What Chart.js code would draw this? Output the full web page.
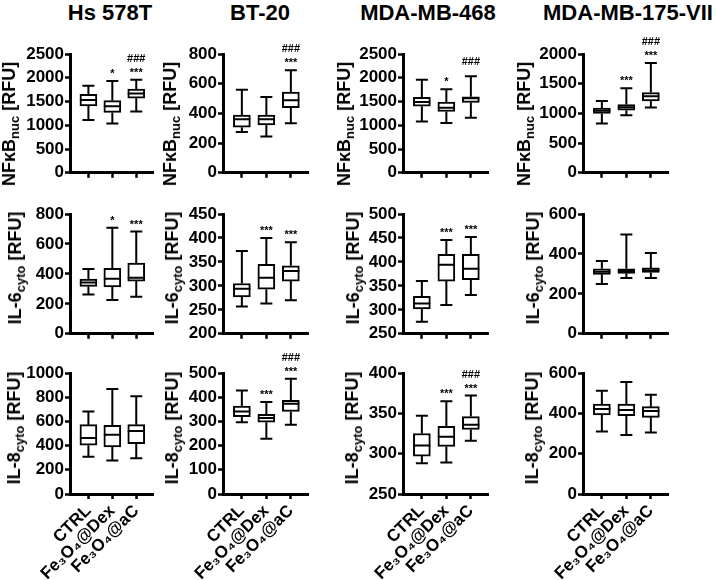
<!DOCTYPE html>
<html>
<head>
<meta charset="utf-8">
<script src="https://cdn.jsdelivr.net/npm/chart.js"></script>
<style>
  body { margin: 0; background: #fff; width: 716px; height: 580px; position: relative; overflow: hidden;
         font-family: "Liberation Sans", Arial, sans-serif; color: #000; }
  canvas { position: absolute; }
  .title { position: absolute; top: 1px; font-weight: bold; font-size: 22px; line-height: 24px;
           transform: translateX(-50%); white-space: nowrap; }
  .ytitle { position: absolute; font-weight: bold; font-size: 18px; line-height: 18px; height: 18px;
            white-space: nowrap; transform: translate(-50%, -50%) rotate(-90deg); }
  .ytitle sub { font-size: 13px; vertical-align: -4px; line-height: 0; }
</style>
</head>
<body>
<script>
// column titles, groups, y-axis names
const cellLines = ['Hs 578T', 'BT-20', 'MDA-MB-468', 'MDA-MB-175-VII'];
const groups = ['CTRL', 'Fe₃O₄@Dex', 'Fe₃O₄@aC'];
const markers = ['NFκB', 'IL-6', 'IL-8'];
const markerSubs = ['nuc', 'cyto', 'cyto'];

// box stats per group: [min, q1, median, q3, max] (CTRL, Fe3O4@Dex, Fe3O4@aC)
const hs578tNfkb = [[1110, 1410, 1530, 1650, 1830], [1040, 1270, 1400, 1520, 1930], [1290, 1570, 1670, 1760, 1960]];
const bt20Nfkb   = [[275, 307, 360, 389, 560], [245, 322, 360, 389, 511], [333, 438, 489, 544, 690]];
const mda468Nfkb = [[1080, 1400, 1490, 1590, 1960], [1050, 1290, 1370, 1490, 1760], [1160, 1480, 1570, 1600, 2030]];
const mda175Nfkb = [[830, 1000, 1045, 1090, 1210], [970, 1055, 1105, 1150, 1425], [1100, 1210, 1290, 1350, 1850]];

const hs578tIl6 = [[263, 317, 343, 365, 433], [226, 313, 367, 437, 709], [248, 352, 375, 472, 683]];
const bt20Il6   = [[257, 277, 294, 305, 373], [263, 293, 317, 345, 400], [270, 310, 331, 342, 391]];
const mda468Il6 = [[275, 302, 313, 328, 360], [310, 360, 394, 416, 446], [331, 363, 386, 416, 452]];
const mda175Il6 = [[250, 298, 311, 326, 364], [279, 303, 315, 326, 497], [279, 307, 318, 330, 405]];

const hs578tIl8 = [[307, 403, 463, 573, 682], [277, 389, 490, 567, 868], [296, 416, 521, 573, 808]];
const bt20Il8   = [[297, 320, 341, 363, 428], [228, 297, 314, 329, 380], [286, 341, 373, 387, 476]];
const mda468Il8 = [[288, 297, 310, 325, 347], [289, 309, 321, 334, 365], [316, 330, 336, 346, 372]];
const mda175Il8 = [[310, 392, 421, 446, 512], [292, 388, 416, 446, 555], [305, 380, 412, 433, 492]];

// significance marks above each box (bottom line first)
const hs578tNfkbSig = [[], ['*'], ['***', '###']];
const bt20NfkbSig   = [[], [], ['***', '###']];
const mda468NfkbSig = [[], ['*'], ['###']];
const mda175NfkbSig = [[], ['***'], ['***', '###']];
const hs578tIl6Sig  = [[], ['*'], ['***']];
const bt20Il6Sig    = [[], ['***'], ['***']];
const mda468Il6Sig  = [[], ['***'], ['***']];
const mda175Il6Sig  = [[], [], []];
const hs578tIl8Sig  = [[], [], []];
const bt20Il8Sig    = [[], ['***'], ['***', '###']];
const mda468Il8Sig  = [[], ['***'], ['***', '###']];
const mda175Il8Sig  = [[], [], []];

// y axis ranges per row (one entry per cell line)
const yMinNfkb = [0, 0, 0, 0],       yMaxNfkb = [2500, 800, 2500, 2000], yStepNfkb = [500, 200, 500, 500];
const yMinIl6  = [0, 200, 250, 0],   yMaxIl6  = [800, 450, 500, 600],    yStepIl6  = [200, 50, 50, 200];
const yMinIl8  = [0, 0, 250, 0],     yMaxIl8  = [1000, 500, 400, 600],   yStepIl8  = [200, 100, 50, 200];

const rowStats = [
  [hs578tNfkb, bt20Nfkb, mda468Nfkb, mda175Nfkb],
  [hs578tIl6, bt20Il6, mda468Il6, mda175Il6],
  [hs578tIl8, bt20Il8, mda468Il8, mda175Il8]
];
const rowSig = [
  [hs578tNfkbSig, bt20NfkbSig, mda468NfkbSig, mda175NfkbSig],
  [hs578tIl6Sig, bt20Il6Sig, mda468Il6Sig, mda175Il6Sig],
  [hs578tIl8Sig, bt20Il8Sig, mda468Il8Sig, mda175Il8Sig]
];
const rowMin = [yMinNfkb, yMinIl6, yMinIl8];
const rowMax = [yMaxNfkb, yMaxIl6, yMaxIl8];
const rowStep = [yStepNfkb, yStepIl6, yStepIl8];

// layout (pixels)
const axisX = [70, 223, 403, 583];
const plotW = [83, 85, 85, 85];
const plotTop = [54, 214, 373];
const plotBottom = [176, 337, 494];
const titleCX = [110, 260, 428, 628];
const yTitleX = [[9, 170, 344, 524], [15, 172, 353, 533], [14, 172, 352, 532]];
const yTitleY = [124, 268, 428];
const Y_W = 64, PAD_TOP = 30, PAD_RIGHT = 8;

Chart.defaults.font.family = '"Liberation Sans", Arial, sans-serif';
Chart.defaults.color = '#000';

function boxPlugin(stats, sig) {
  return {
    id: 'boxWhiskers',
    afterDatasetsDraw(chart) {
      const ctx = chart.ctx;
      const x = chart.scales.x, y = chart.scales.y;
      ctx.save();
      ctx.strokeStyle = '#000';
      ctx.lineWidth = 2;
      stats.forEach((s, i) => {
        const cx = x.getPixelForValue(i);
        const lo = y.getPixelForValue(s[0]), q1 = y.getPixelForValue(s[1]);
        const med = y.getPixelForValue(s[2]), q3 = y.getPixelForValue(s[3]);
        const hi = y.getPixelForValue(s[4]);
        ctx.beginPath();
        ctx.moveTo(cx, q1); ctx.lineTo(cx, lo);
        ctx.moveTo(cx - 6, lo); ctx.lineTo(cx + 6, lo);
        ctx.moveTo(cx, q3); ctx.lineTo(cx, hi);
        ctx.moveTo(cx - 6, hi); ctx.lineTo(cx + 6, hi);
        ctx.moveTo(cx - 8.5, med); ctx.lineTo(cx + 8.5, med);
        ctx.stroke();

        // significance marks
        ctx.fillStyle = '#000';
        ctx.font = 'bold 11px "Liberation Sans", Arial, sans-serif';
        ctx.textAlign = 'center';
        ctx.textBaseline = 'alphabetic';
        sig[i].forEach((txt, k) => {
          let by;
          if (k === 0) by = txt[0] === '#' ? hi - 11 : hi - 4;
          else by = hi - 18;
          ctx.fillText(txt, cx, by);
        });
      });
      ctx.restore();
    }
  };
}

function addText(cls, html, left, top) {
  const d = document.createElement('div');
  d.className = cls;
  d.innerHTML = html;
  d.style.left = left + 'px';
  d.style.top = top + 'px';
  document.body.appendChild(d);
}

cellLines.forEach((name, c) => addText('title', name, titleCX[c], 1));

for (let r = 0; r < 3; r++) {
  for (let c = 0; c < 4; c++) {
    const stats = rowStats[r][c];
    const bottomRow = r === 2;
    const bottomH = bottomRow ? 580 - plotBottom[r] : 8;
    const w = Y_W + plotW[c] + PAD_RIGHT;
    const h = PAD_TOP + (plotBottom[r] - plotTop[r]) + bottomH;

    const canvas = document.createElement('canvas');
    canvas.width = w; canvas.height = h;
    canvas.style.left = (axisX[c] - Y_W) + 'px';
    canvas.style.top = (plotTop[r] - PAD_TOP) + 'px';
    canvas.style.width = w + 'px'; canvas.style.height = h + 'px';
    document.body.appendChild(canvas);

    addText('ytitle', markers[r] + '<sub>' + markerSubs[r] + '</sub> [RFU]', yTitleX[r][c], yTitleY[r]);

    new Chart(canvas.getContext('2d'), {
      type: 'bar',
      data: {
        datasets: [{
          data: stats.map((s, i) => ({ x: i, y: [s[1], s[3]] })),
          backgroundColor: '#fff',
          borderColor: '#000',
          borderWidth: 2,
          borderSkipped: false,
          barThickness: 17
        }]
      },
      options: {
        responsive: false,
        animation: false,
        layout: { padding: { top: PAD_TOP, right: PAD_RIGHT, left: 0, bottom: 0 } },
        plugins: { legend: { display: false }, tooltip: { enabled: false } },
        scales: {
          x: {
            type: 'linear',
            min: -0.77,
            max: 2.7,
            offset: false,
            afterBuildTicks: s => { s.ticks = [0, 1, 2].map(v => ({ value: v })); },
            afterFit: s => { s.height = bottomH; },
            grid: { drawOnChartArea: false, drawTicks: true, tickLength: 5, tickWidth: 2.5, color: '#000', offset: false },
            border: { display: true, color: '#000', width: 3 },
            ticks: {
              display: bottomRow,
              autoSkip: false,
              maxRotation: 45,
              minRotation: 45,
              padding: 2,
              color: '#000',
              font: { size: 17, weight: 'bold' },
              callback: v => groups[v]
            }
          },
          y: {
            min: rowMin[r][c],
            max: rowMax[r][c],
            afterFit: s => { s.width = Y_W; },
            grid: { drawOnChartArea: false, drawTicks: true, tickLength: 5, tickWidth: 2.5, color: '#000' },
            border: { display: true, color: '#000', width: 3 },
            ticks: {
              stepSize: rowStep[r][c],
              padding: 1,
              color: '#000',
              font: { size: 17, weight: 'bold' },
              callback: v => String(v)
            }
          }
        }
      },
      plugins: [boxPlugin(stats, rowSig[r][c])]
    });
  }
}
</script>
</body>
</html>
